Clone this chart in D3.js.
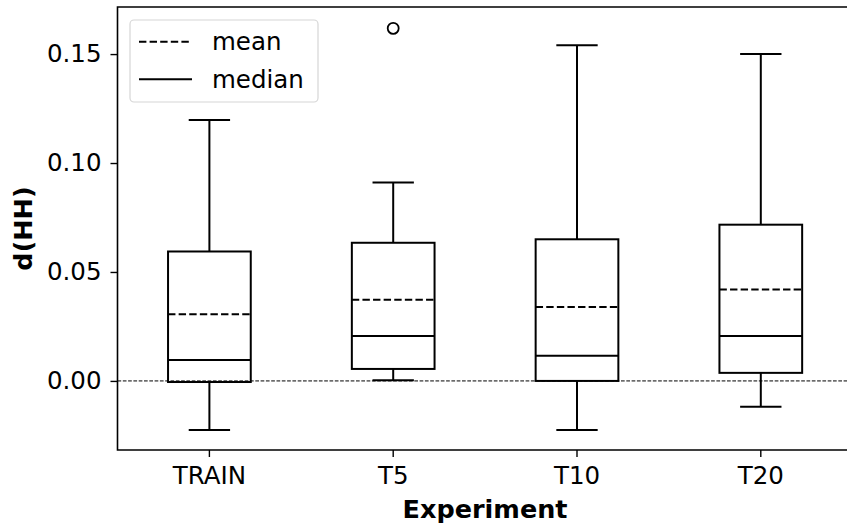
<!DOCTYPE html>
<html>
<head>
<meta charset="utf-8">
<script src="https://cdn.jsdelivr.net/npm/d3@7"></script>
<style>
  html, body { margin: 0; padding: 0; background: #fff; }
  svg { display: block; font-family: "DejaVu Sans", sans-serif; }
</style>
</head>
<body>
<svg id="chart" width="847" height="527"></svg>
<script>
// Box statistics per experiment
const experiments = ["TRAIN", "T5", "T10", "T20"];
const whiskerLow  = [-0.0225, 0.0003, -0.0225, -0.0119];
const q1          = [-0.0005, 0.0055, 0.0000, 0.0037];
const medians     = [0.0096, 0.0206, 0.0116, 0.0206];
const means       = [0.0306, 0.0372, 0.0339, 0.0419];
const q3          = [0.0594, 0.0634, 0.0650, 0.0717];
const whiskerHigh = [0.1197, 0.0911, 0.1541, 0.1500];
const outliers    = [[], [0.1618], [], []];
const yTicks      = [0.00, 0.05, 0.10, 0.15];

const boxes = experiments.map((name, i) => ({
  name, lo: whiskerLow[i], q1: q1[i], med: medians[i], mean: means[i],
  q3: q3[i], hi: whiskerHigh[i], fliers: outliers[i]
}));

const svg = d3.select("#chart");
const plot = { left: 117.5, right: 852.7, top: 7, bottom: 450 };
const tickFont = "24.5px";
const titleFont = "25.5px";

const x = d3.scaleBand().domain(experiments).range([plot.left, plot.right]).paddingInner(0).paddingOuter(0);
const y = d3.scaleLinear().domain([-0.0317, 0.1716]).range([plot.bottom, plot.top]);

const cx = d => x(d) + x.bandwidth() / 2;
const boxW = x.bandwidth() * 0.45;
const capW = boxW * 0.5;

// zero reference line
svg.append("line")
  .attr("x1", plot.left).attr("x2", plot.right)
  .attr("y1", y(0)).attr("y2", y(0))
  .attr("stroke", "#000").attr("stroke-width", 1)
  .attr("stroke-dasharray", "3.7,1.6");

const g = svg.append("g").selectAll("g").data(boxes).join("g");
const stroke = { stroke: "#000", "stroke-width": 2, fill: "none" };
function applyStroke(sel) { Object.entries(stroke).forEach(([k, v]) => sel.attr(k, v)); return sel; }

// whiskers
applyStroke(g.append("line"))
  .attr("x1", d => cx(d.name)).attr("x2", d => cx(d.name))
  .attr("y1", d => y(d.q3)).attr("y2", d => y(d.hi));
applyStroke(g.append("line"))
  .attr("x1", d => cx(d.name)).attr("x2", d => cx(d.name))
  .attr("y1", d => y(d.q1)).attr("y2", d => y(d.lo));
// caps
applyStroke(g.append("line"))
  .attr("x1", d => cx(d.name) - capW / 2).attr("x2", d => cx(d.name) + capW / 2)
  .attr("y1", d => y(d.hi)).attr("y2", d => y(d.hi));
applyStroke(g.append("line"))
  .attr("x1", d => cx(d.name) - capW / 2).attr("x2", d => cx(d.name) + capW / 2)
  .attr("y1", d => y(d.lo)).attr("y2", d => y(d.lo));
// boxes
applyStroke(g.append("rect"))
  .attr("x", d => cx(d.name) - boxW / 2).attr("width", boxW)
  .attr("y", d => y(d.q3)).attr("height", d => y(d.q1) - y(d.q3));
// medians
applyStroke(g.append("line"))
  .attr("x1", d => cx(d.name) - boxW / 2).attr("x2", d => cx(d.name) + boxW / 2)
  .attr("y1", d => y(d.med)).attr("y2", d => y(d.med));
// means
applyStroke(g.append("line"))
  .attr("x1", d => cx(d.name) - boxW / 2).attr("x2", d => cx(d.name) + boxW / 2)
  .attr("y1", d => y(d.mean)).attr("y2", d => y(d.mean))
  .attr("stroke-dasharray", "7.4,3.2");
// outliers
g.selectAll("circle").data(d => d.fliers.map(v => ({ name: d.name, v })))
  .join("circle")
  .attr("cx", d => cx(d.name)).attr("cy", d => y(d.v)).attr("r", 5.5)
  .attr("fill", "none").attr("stroke", "#000").attr("stroke-width", 1.8);

// axes
const yAxis = svg.append("g").attr("transform", `translate(${plot.left},0)`)
  .call(d3.axisLeft(y).tickValues(yTicks).tickFormat(d3.format(".2f")).tickSizeOuter(0).tickSize(7).tickPadding(9));
const xAxis = svg.append("g").attr("transform", `translate(0,${plot.bottom})`)
  .call(d3.axisBottom(x).tickSizeOuter(0).tickSize(7).tickPadding(10));
[yAxis, xAxis].forEach(a => {
  a.select(".domain").remove();
  a.selectAll(".tick line").attr("stroke", "#000").attr("stroke-width", 1.4);
  a.selectAll(".tick text").attr("fill", "#000").style("font-size", tickFont).style("font-family", "DejaVu Sans");
});

// spines (left, top, bottom; right edge lies past the canvas)
svg.append("path")
  .attr("d", `M${plot.right},${plot.top}H${plot.left}V${plot.bottom}H${plot.right}`)
  .attr("fill", "none").attr("stroke", "#000").attr("stroke-width", 1.6);

// axis titles
svg.append("text").attr("x", (plot.left + plot.right) / 2).attr("y", 518)
  .attr("text-anchor", "middle").style("font-size", titleFont).style("font-weight", "bold")
  .text("Experiment");
svg.append("text").attr("transform", `translate(32,${(plot.top + plot.bottom) / 2}) rotate(-90)`)
  .attr("text-anchor", "middle").style("font-size", titleFont).style("font-weight", "bold")
  .text("d(HH)");

// legend
const leg = svg.append("g");
leg.append("rect").attr("x", 130).attr("y", 20).attr("width", 188).attr("height", 82).attr("rx", 4)
  .attr("fill", "#fff").attr("fill-opacity", 0.8).attr("stroke", "#d6d6d6").attr("stroke-width", 1.2);
const legendItems = [{ label: "mean", dash: "7.4,3.2", y: 41.7 }, { label: "median", dash: null, y: 79.3 }];
legendItems.forEach(it => {
  leg.append("line").attr("x1", 139).attr("x2", 192).attr("y1", it.y).attr("y2", it.y)
    .attr("stroke", "#000").attr("stroke-width", 2).attr("stroke-dasharray", it.dash);
  leg.append("text").attr("x", 212).attr("y", it.y + 8.5).style("font-size", tickFont).text(it.label);
});
</script>
</body>
</html>
